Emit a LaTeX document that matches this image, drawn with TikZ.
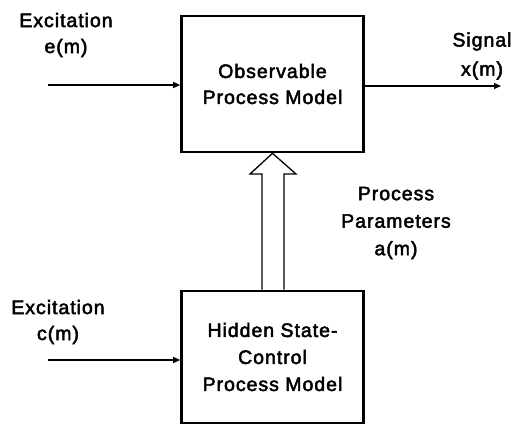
\documentclass[tikz,border=0pt]{standalone}
\usepackage{fontspec}
\setmainfont{Liberation Sans}[LetterSpace=5,FakeBold=2.5]
\usetikzlibrary{arrows.meta}
\begin{document}
\begin{tikzpicture}[x=1pt,y=-1pt,
  block/.style={draw,line width=2.6pt,minimum width=182pt,align=center,font=\fontsize{19.5}{26}\selectfont},
  label/.style={align=center,font=\fontsize{19.5}{26}\selectfont,inner sep=0pt},
  sig/.style={line width=1.3pt,-{Triangle[length=7pt,width=6pt]}},
  hollow/.style={line width=1.3pt,fill=white,line join=miter}]
\useasboundingbox (0,0) rectangle (515,426);
% observable process block
\node[block,minimum height=136pt] (obs) at (272.5,84) {Observable\\Process Model};
% hidden state-control block
\node[block,minimum height=132pt,font=\fontsize{19.5}{27}\selectfont] (hid) at (272.5,357) {Hidden State-\\Control\\Process Model};
% excitation inputs and output signal
\coordinate (ein) at (48,85);
\coordinate (cin) at (48,360);
\coordinate (xout) at (501,86);
\draw[sig] (ein) -- (ein -| obs.west);
\draw[sig] (cin) -- (cin -| hid.west);
\draw[sig] (xout -| obs.east) -- (xout);
\node[label] (elab) at (66,35) {Excitation\\e(m)};
\node[label] (clab) at (58,322) {Excitation\\c(m)};
\node[label,font=\fontsize{19.5}{29}\selectfont] (xlab) at (482,56) {Signal\\x(m)};
\node[label,font=\fontsize{19.5}{27.5}\selectfont] (alab) at (396,223) {Process\\Parameters\\a(m)};
% hollow parameter arrow from hidden block up to observable block
\coordinate (sl) at (262,0);
\coordinate (sr) at (284,0);
\coordinate (hl) at (250,174);
\coordinate (hr) at (296,174);
\draw[hollow]
  (sl |- hid.north) -- (sl |- hl) -- (hl) -- (obs.south)
  -- (hr) -- (sr |- hr) -- (sr |- hid.north);
\end{tikzpicture}
\end{document}
